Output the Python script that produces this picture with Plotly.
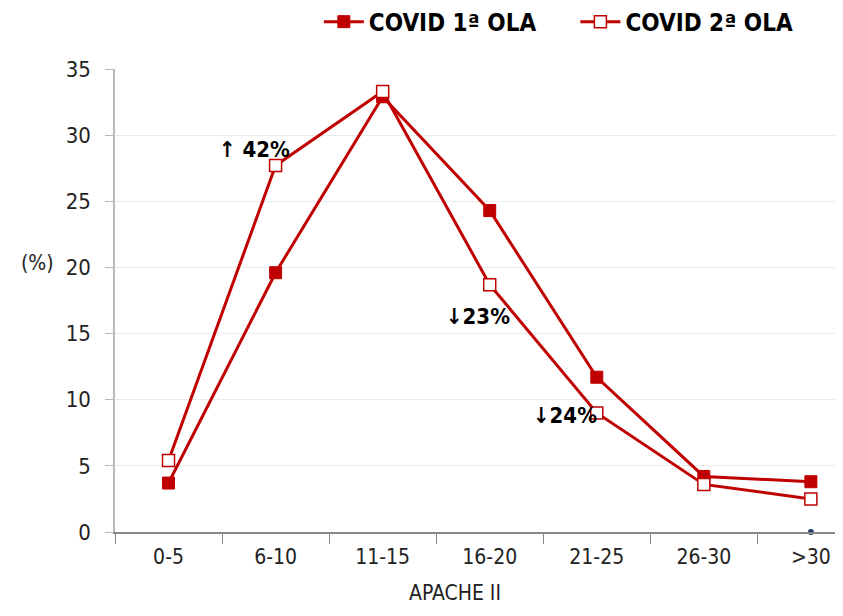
import plotly.graph_objects as go

categories = ["0-5", "6-10", "11-15", "16-20", "21-25", "26-30", ">30"]
ola1 = [3.7, 19.6, 32.9, 24.3, 11.7, 4.2, 3.8]
ola2 = [5.4, 27.7, 33.3, 18.7, 9.0, 3.6, 2.5]
extra_x = [">30"]
extra_y = [0]

notes_text = ["\u2191 42%", "\u219323%", "\u219324%"]
notes_x = [0.80, 2.89, 3.70]
notes_y = [28.9, 16.3, 8.8]

red = "#C00000"
narrow = "DejaVu Sans Condensed, Liberation Sans Narrow, Arial Narrow, sans-serif"

fig = go.Figure()
fig.add_trace(go.Scatter(
    x=categories, y=ola1, name="<b>COVID 1\u00aa OLA</b>" + "\u00a0" * 5, mode="lines+markers",
    line=dict(color=red, width=3),
    marker=dict(symbol="square", size=12, color=red, line=dict(color=red, width=1)),
))
fig.add_trace(go.Scatter(
    x=categories, y=ola2, name="<b>COVID 2\u00aa OLA</b>", mode="lines+markers",
    line=dict(color=red, width=3),
    marker=dict(symbol="square", size=12, color="white", line=dict(color=red, width=1.5)),
))
fig.add_trace(go.Scatter(
    x=extra_x, y=extra_y, mode="markers", showlegend=False, cliponaxis=False,
    marker=dict(size=6, color="#1F3864"),
))

for t, x, y in zip(notes_text, notes_x, notes_y):
    fig.add_annotation(x=x, y=y, text="<b>" + t + "</b>", showarrow=False,
                       font=dict(family=narrow, size=22, color="black"))

# the page adds an 8px body margin, so the figure is offset by 8px
fig.update_layout(
    width=835, height=600,
    margin=dict(l=107, r=0, t=61, b=76, autoexpand=False),
    plot_bgcolor="white", paper_bgcolor="white",
    font=dict(family=narrow, color="#222"),
    showlegend=True,
    legend=dict(orientation="h", x=0.28, y=1.15, xanchor="left", yanchor="top",
                font=dict(family=narrow, size=24, color="black"),
                itemwidth=40, tracegroupgap=0, bgcolor="rgba(0,0,0,0)"),
    xaxis=dict(
        type="category", range=[-0.5, 6.3],
        showline=True, linecolor="#888", linewidth=1.5,
        ticks="outside", tickson="boundaries", ticklen=10, tickcolor="#888",
        ticklabelstandoff=5,
        showgrid=False, tickfont=dict(size=21, color="#222"),
    ),
    yaxis=dict(
        range=[0, 35], dtick=5,
        showline=True, linecolor="#bbb", linewidth=1.5,
        ticks="outside", ticklen=8, tickcolor="#bbb",
        ticklabelstandoff=10,
        showgrid=True, gridcolor="#ebebeb", gridwidth=1,
        zeroline=False, tickfont=dict(size=22, color="#222"),
    ),
)
fig.add_annotation(xref="paper", yref="paper", x=-0.107, y=0.58, text="(%)",
                   xanchor="center", yanchor="middle",
                   showarrow=False, font=dict(family=narrow, size=21, color="#222"))
fig.add_annotation(xref="paper", yref="paper", x=0.467, y=-0.132, text="APACHE II",
                   xanchor="center", yanchor="middle",
                   showarrow=False, font=dict(family=narrow, size=21, color="#222"))

fig.write_html("out.html")
